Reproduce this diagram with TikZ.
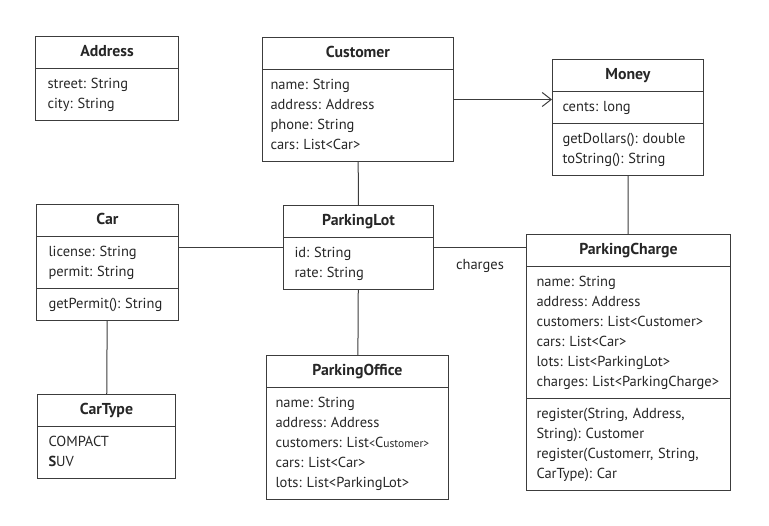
\documentclass[tikz,border=0pt]{standalone}
\usepackage{fontspec}
\setmainfont{PT Sans}
\usepackage{xcolor}
\usepackage{tikz}
\usetikzlibrary{shapes.multipart, arrows.meta}

\definecolor{linegray}{HTML}{3C3C3C}
\definecolor{textgray}{HTML}{262626}
\frenchspacing

\tikzset{
    umlclass/.style={draw=linegray, line width=1pt, rectangle split,
        rectangle split parts=#1, align=left, anchor=north west,
        inner ysep=5.5pt, text=textgray, font=\fontsize{14.5}{20}\selectfont},
    assoc/.style={draw=linegray, line width=1pt}
}

\newcommand{\clsname}[1]{\centerline{\strut\fontsize{15.8}{20}\selectfont\textbf{#1}}}

\begin{document}
\begin{tikzpicture}[x=1pt, y=-1pt]
        \useasboundingbox (0,0) rectangle (769,526);

        % Add the classes
        \node[umlclass=2, inner xsep=12pt, text width=119pt] (adr) at (35,36)
            {\clsname{Address}
             \nodepart{two}\strut street: String\\city: String\strut};
        \node[umlclass=2, inner xsep=8pt, text width=175pt] (cust) at (262,37)
            {\clsname{Customer}
             \nodepart{two}\strut name: String\\address: Address\\phone: String\\cars: List<Car>\strut};
        \node[umlclass=3, inner xsep=10pt, text width=131pt] (money) at (552,59)
            {\clsname{Money}
             \nodepart{two}\strut cents: long\strut
             \nodepart{three}\strut getDollars(): double\\toString(): String\strut};
        \node[umlclass=3, inner xsep=12pt, text width=118pt] (car) at (36,204)
            {\clsname{Car}
             \nodepart{two}\strut license: String\\permit: String\strut
             \nodepart{three}\strut getPermit(): String\strut};
        \node[umlclass=2, inner xsep=11pt, text width=128pt] (lot) at (283,205)
            {\clsname{ParkingLot}
             \nodepart{two}\strut id: String\\rate: String\strut};
        \node[umlclass=3, inner xsep=10pt, text width=184pt] (charge) at (526,234)
            {\clsname{ParkingCharge}
             \nodepart{two}\strut name: String\\address: Address\\customers: List<Customer>\\cars: List<Car>\\lots: List<ParkingLot>\\charges: List<ParkingCharge>\strut
             \nodepart{three}\strut register(String, Address,\\String): Customer\\register(Customerr, String,\\CarType): Car\strut};
        \node[umlclass=2, inner xsep=11pt, text width=116pt] (cartype) at (37,394)
            {\clsname{CarType}
             \nodepart{two}\strut COMPACT\\\textbf{S}UV\strut};
        \node[umlclass=2, inner xsep=9pt, text width=164pt] (office) at (266,355)
            {\clsname{ParkingOffice}
             \nodepart{two}\strut name: String\\address: Address\\customers: List{\fontsize{12}{20}\selectfont<}C{\fontsize{11.5}{20}\selectfont ustomer>}\\cars: List<Car>\\lots: List<ParkingLot>\strut};

        % Connect the classes
        \draw[assoc, -{Straight Barb[length=9pt, width=14pt]}]
            (cust.east) -- (cust.east -| money.west);
        \draw[assoc] (cust) -- (lot);
        \draw[assoc] (money) -- (charge);
        \draw[assoc] (lot.west) -- (lot.west -| car.east);
        \draw[assoc] (lot.east) -- node[below=8pt, text=textgray,
            font=\fontsize{14.5}{20}\selectfont] {charges} (lot.east -| charge.west);
        \draw[assoc] (car) -- (cartype);
        \draw[assoc] (lot) -- (office);
    \end{tikzpicture}
\end{document}
